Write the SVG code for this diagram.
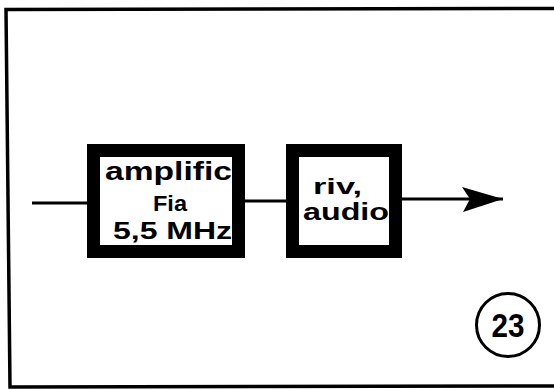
<svg xmlns="http://www.w3.org/2000/svg" width="554" height="390" viewBox="0 0 554 390">
<defs>
<style>
.box{fill:#fff;stroke:#000;stroke-width:13}
.lbl{font-family:"Liberation Sans",Arial,sans-serif;font-weight:bold;fill:#000}
.ln{stroke:#000;stroke-width:3;fill:none}
</style>
<marker id="arr" markerUnits="userSpaceOnUse" markerWidth="44" markerHeight="28" refX="41" refY="14" orient="auto">
<polygon points="41,14 0,2 8,14 1,27" fill="#000"/>
</marker>
</defs>
<rect width="554" height="390" fill="#fff"/>
<polyline points="554,8.5 6,9.5 10,387 554,386" fill="none" stroke="#000" stroke-width="3.5"/>
<g id="connectors">
<line class="ln" x1="32" y1="203" x2="88" y2="203"/>
<line class="ln" x1="244" y1="201" x2="287" y2="201"/>
<line class="ln" x1="401" y1="199" x2="503" y2="199" marker-end="url(#arr)"/>
</g>
<g id="amp">
<rect class="box" x="93.5" y="150.5" width="145" height="101"/>
<text class="lbl" x="105" y="180" font-size="25" textLength="127" lengthAdjust="spacingAndGlyphs">amplific</text>
<text class="lbl" x="153" y="211" font-size="22" textLength="34" lengthAdjust="spacingAndGlyphs">Fia</text>
<text class="lbl" x="113" y="239" font-size="24" textLength="119" lengthAdjust="spacingAndGlyphs">5,5 MHz</text>
</g>
<g id="riv">
<rect class="box" x="292.5" y="150.5" width="103" height="101"/>
<text class="lbl" x="313" y="194" font-size="22" textLength="49" lengthAdjust="spacingAndGlyphs">riv,</text>
<text class="lbl" x="303" y="220" font-size="23" textLength="86" lengthAdjust="spacingAndGlyphs">audio</text>
</g>
<g id="num">
<circle cx="508" cy="325" r="31.5" fill="none" stroke="#000" stroke-width="3"/>
<text class="lbl" x="508" y="337" font-size="33" text-anchor="middle" textLength="33" lengthAdjust="spacingAndGlyphs">23</text>
</g>
</svg>
